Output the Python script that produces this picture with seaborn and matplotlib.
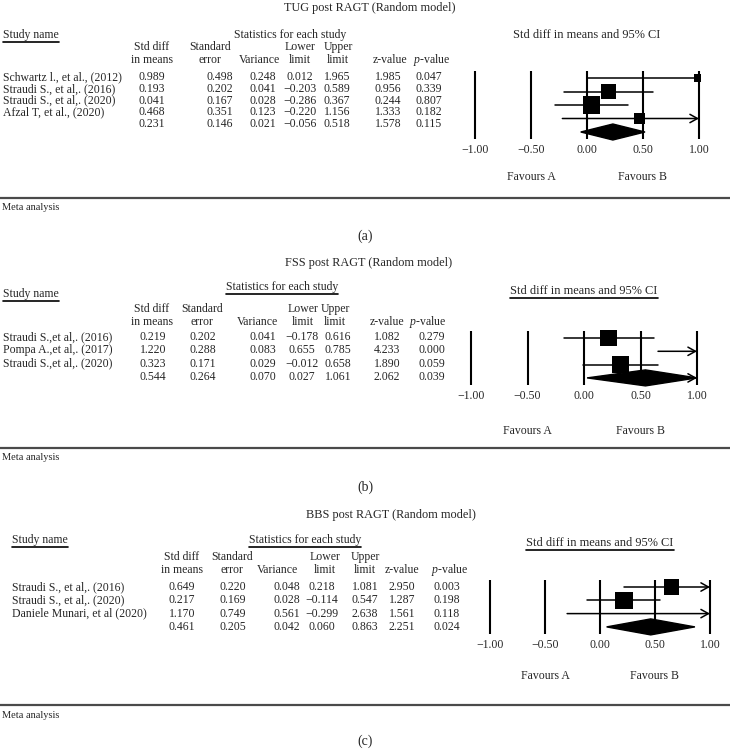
import numpy as np
import pandas as pd
import matplotlib
matplotlib.use("Agg")
import matplotlib.pyplot as plt
from matplotlib.lines import Line2D
from matplotlib.patches import Polygon
import seaborn as sns

# ---- (a) TUG ----
a_names = ["Schwartz l., et al., (2012)", "Straudi S., et al,. (2016)",
           "Straudi S., et al,. (2020)", "Afzal T, et al., (2020)", ""]
a_smd = [0.989, 0.193, 0.041, 0.468, 0.231]
a_se = [0.498, 0.202, 0.167, 0.351, 0.146]
a_var = [0.248, 0.041, 0.028, 0.123, 0.021]
a_lower = [0.012, -0.203, -0.286, -0.220, -0.056]
a_upper = [1.965, 0.589, 0.367, 1.156, 0.518]
a_z = [1.985, 0.956, 0.244, 1.333, 1.578]
a_p = [0.047, 0.339, 0.807, 0.182, 0.115]

# ---- (b) FSS ----
b_names = ["Straudi S.,et al,. (2016)", "Pompa A.,et al,. (2017)",
           "Straudi S.,et al,. (2020)", ""]
b_smd = [0.219, 1.220, 0.323, 0.544]
b_se = [0.202, 0.288, 0.171, 0.264]
b_var = [0.041, 0.083, 0.029, 0.070]
b_lower = [-0.178, 0.655, -0.012, 0.027]
b_upper = [0.616, 0.785, 0.658, 1.061]
b_z = [1.082, 4.233, 1.890, 2.062]
b_p = [0.279, 0.000, 0.059, 0.039]

# ---- (c) BBS ----
c_names = ["Straudi S., et al,. (2016)", "Straudi S., et al,. (2020)",
           "Daniele Munari, et al (2020)", ""]
c_smd = [0.649, 0.217, 1.170, 0.461]
c_se = [0.220, 0.169, 0.749, 0.205]
c_var = [0.048, 0.028, 0.561, 0.042]
c_lower = [0.218, -0.114, -0.299, 0.060]
c_upper = [1.081, 0.547, 2.638, 0.863]
c_z = [2.950, 1.287, 1.561, 2.251]
c_p = [0.003, 0.198, 0.118, 0.024]

axis_ticks = [-1.0, -0.5, 0.0, 0.5, 1.0]

sns.set_theme(style="white")
plt.rcParams["font.family"] = ["Liberation Serif", "DejaVu Serif"]
plt.rcParams["mathtext.fontset"] = "custom"
plt.rcParams["mathtext.it"] = "Liberation Serif:italic"
plt.rcParams["mathtext.rm"] = "Liberation Serif"

W, H = 730, 750
fig = plt.figure(figsize=(W / 100, H / 100), dpi=100)
FS = 8.5


def px(x, y):
    return x / W, 1 - y / H


def ftext(x, y, s, **kw):
    kw.setdefault("fontsize", FS)
    kw.setdefault("ha", "center")
    kw.setdefault("va", "center")
    return fig.text(*px(x, y), s, **kw)


def fmt(v):
    return f"{v:.3f}".replace("-", "\u2212")


def tau2(var, summary_var):
    # between-study variance that reproduces the random-effects summary variance
    lo, hi = 0.0, 5.0
    for _ in range(60):
        t = (lo + hi) / 2
        if 1 / np.sum(1 / (var + t)) < summary_var:
            lo = t
        else:
            hi = t
    return (lo + hi) / 2


underlined = []
ARROW = "->,head_length=0.45,head_width=0.25"


def panel(L, names, smd, se, var, lower, upper, z, p):
    ftext(L["title_x"], L["title_y"], L["title"], fontsize=FS + 0.3)
    t = ftext(L["name_x"], L["sec_y"][0], "Study name", ha="left")
    underlined.append(t)
    t = ftext(L["stat_x"], L["sec_y"][1], "Statistics for each study")
    if L["ul_stat"]:
        underlined.append(t)
    t = ftext(L["zero"], L["sec_y"][2], "Std diff in means and 95% CI", fontsize=FS + 0.4)
    if L["ul_ci"]:
        underlined.append(t)

    hx = L["head_x"]
    line1 = ["Std diff", "Standard", "", "Lower", "Upper", "", ""]
    line2 = ["in means", "error", "Variance", "limit", "limit", "z-value", "$p$-value"]
    for x, s1, s2 in zip(hx, line1, line2):
        ftext(x, L["head_y"][0], s1)
        ftext(x, L["head_y"][1], s2)

    cols = [smd, se, var, lower, upper, z, p]
    for i, name in enumerate(names):
        y = L["row0"] + i * L["row_sp"]
        ftext(L["name_x"], y, name, ha="left")
        for x, col in zip(L["col_x"], cols):
            ftext(x, y, fmt(col[i]))

    # forest plot
    n = len(names)
    unit, zero, f0, fsp = L["unit"], L["zero"], L["f0"], L["f_sp"]
    left = (zero - 1.2 * unit) / W
    width = 2.4 * unit / W
    top = f0 - fsp
    bottom = f0 + n * fsp
    ax = fig.add_axes([left, 1 - bottom / H, width, (bottom - top) / H])
    ax.set_xlim(-1.2, 1.2)
    ax.set_ylim(n, -1)
    ax.axis("off")
    ax.vlines(axis_ticks, -0.55, n - 1 + 0.55, color="black", lw=1.5)

    for i in range(n - 1):
        lo = max(min(lower[i], smd[i]), -1.0)
        hi = max(upper[i], smd[i])
        square_at_edge = 0.95 <= smd[i] <= 1.0
        if hi > 1.0 and not square_at_edge:
            ax.annotate("", xy=(1.0, i), xytext=(lo, i),
                        arrowprops=dict(arrowstyle=ARROW, lw=1.1, color="black",
                                        shrinkA=0, shrinkB=0))
        else:
            ax.plot([lo, min(hi, 1.0)], [i, i], color="black", lw=1.1)

    # square sizes from random-effects weights
    t2 = tau2(np.array(var[:-1]), var[-1])
    w = 1 / (np.array(var[:-1]) + t2)
    side_px = 17.5 * np.sqrt(w / w.max())
    sq = pd.DataFrame({"x": smd[:-1], "y": np.arange(n - 1),
                       "s": (side_px * 0.72) ** 2})
    sq = sq[sq["x"] <= 1.0]
    sns.scatterplot(data=sq, x="x", y="y", marker="s", s=sq["s"].values,
                    color="black", linewidth=0, ax=ax, legend=False, zorder=3)

    # summary diamond
    k = n - 1
    h = 8.0 / fsp
    hi = min(upper[k], 1.0)
    ax.add_patch(Polygon([(lower[k], k), (smd[k], k - h), (hi, k), (smd[k], k + h)],
                         closed=True, color="black", zorder=3))
    if upper[k] > 1.0:
        ax.annotate("", xy=(1.0, k), xytext=(0.9, k),
                    arrowprops=dict(arrowstyle=ARROW, lw=1.1, color="black",
                                    shrinkA=0, shrinkB=0))

    tick_y = f0 + (n - 1) * fsp + 18
    for v in axis_ticks:
        ftext(zero + v * unit, tick_y, f"{v:.2f}".replace("-", "\u2212"))
    ftext(zero - 0.5 * unit, L["fav_y"], "Favours A")
    ftext(zero + 0.5 * unit, L["fav_y"], "Favours B")

    fig.add_artist(Line2D([0, 1], [1 - L["rule_y"] / H] * 2, color="#4a4a4a", lw=1.6))
    ftext(2, L["rule_y"] + 10, "Meta analysis", ha="left", fontsize=FS - 1.0)
    ftext(365, L["lab_y"], L["label"], fontsize=FS + 1.5)


panel(dict(title="TUG post RAGT (Random model)", title_x=370, title_y=8,
           name_x=3, sec_y=(35, 35, 35), stat_x=290, ul_stat=False, ul_ci=False,
           head_x=[152, 210, 259, 300, 338, 390, 432], head_y=(47, 60),
           col_x=[152, 220, 263, 300, 337, 388, 429], row0=77, row_sp=11.8,
           zero=587, unit=112, f0=78, f_sp=13.5, fav_y=177, rule_y=198,
           lab_y=236, label="(a)"),
      a_names, a_smd, a_se, a_var, a_lower, a_upper, a_z, a_p)

panel(dict(title="FSS post RAGT (Random model)", title_x=369, title_y=263,
           name_x=3, sec_y=(294, 287, 291), stat_x=282, ul_stat=True, ul_ci=True,
           head_x=[152, 202, 257, 303, 335, 387, 428], head_y=(309, 322),
           col_x=[153, 203, 263, 302, 338, 387, 432], row0=337, row_sp=13.3,
           zero=584, unit=113, f0=338, f_sp=13.3, fav_y=431, rule_y=448,
           lab_y=487, label="(b)"),
      b_names, b_smd, b_se, b_var, b_lower, b_upper, b_z, b_p)

panel(dict(title="BBS post RAGT (Random model)", title_x=391, title_y=515,
           name_x=12, sec_y=(540, 540, 543), stat_x=305, ul_stat=True, ul_ci=True,
           head_x=[182, 232, 277, 325, 365, 402, 450], head_y=(557, 570),
           col_x=[182, 233, 287, 322, 365, 402, 447], row0=587, row_sp=13.3,
           zero=600, unit=110, f0=587, f_sp=13.3, fav_y=676, rule_y=705,
           lab_y=741, label="(c)"),
      c_names, c_smd, c_se, c_var, c_lower, c_upper, c_z, c_p)

# underline headings
fig.canvas.draw()
r = fig.canvas.get_renderer()
for t in underlined:
    bb = t.get_window_extent(r)
    yl = (bb.y0 - 1.0) / H
    fig.add_artist(Line2D([bb.x0 / W, bb.x1 / W], [yl, yl], color="black", lw=1.2))

fig.savefig("out.png", dpi=100)
